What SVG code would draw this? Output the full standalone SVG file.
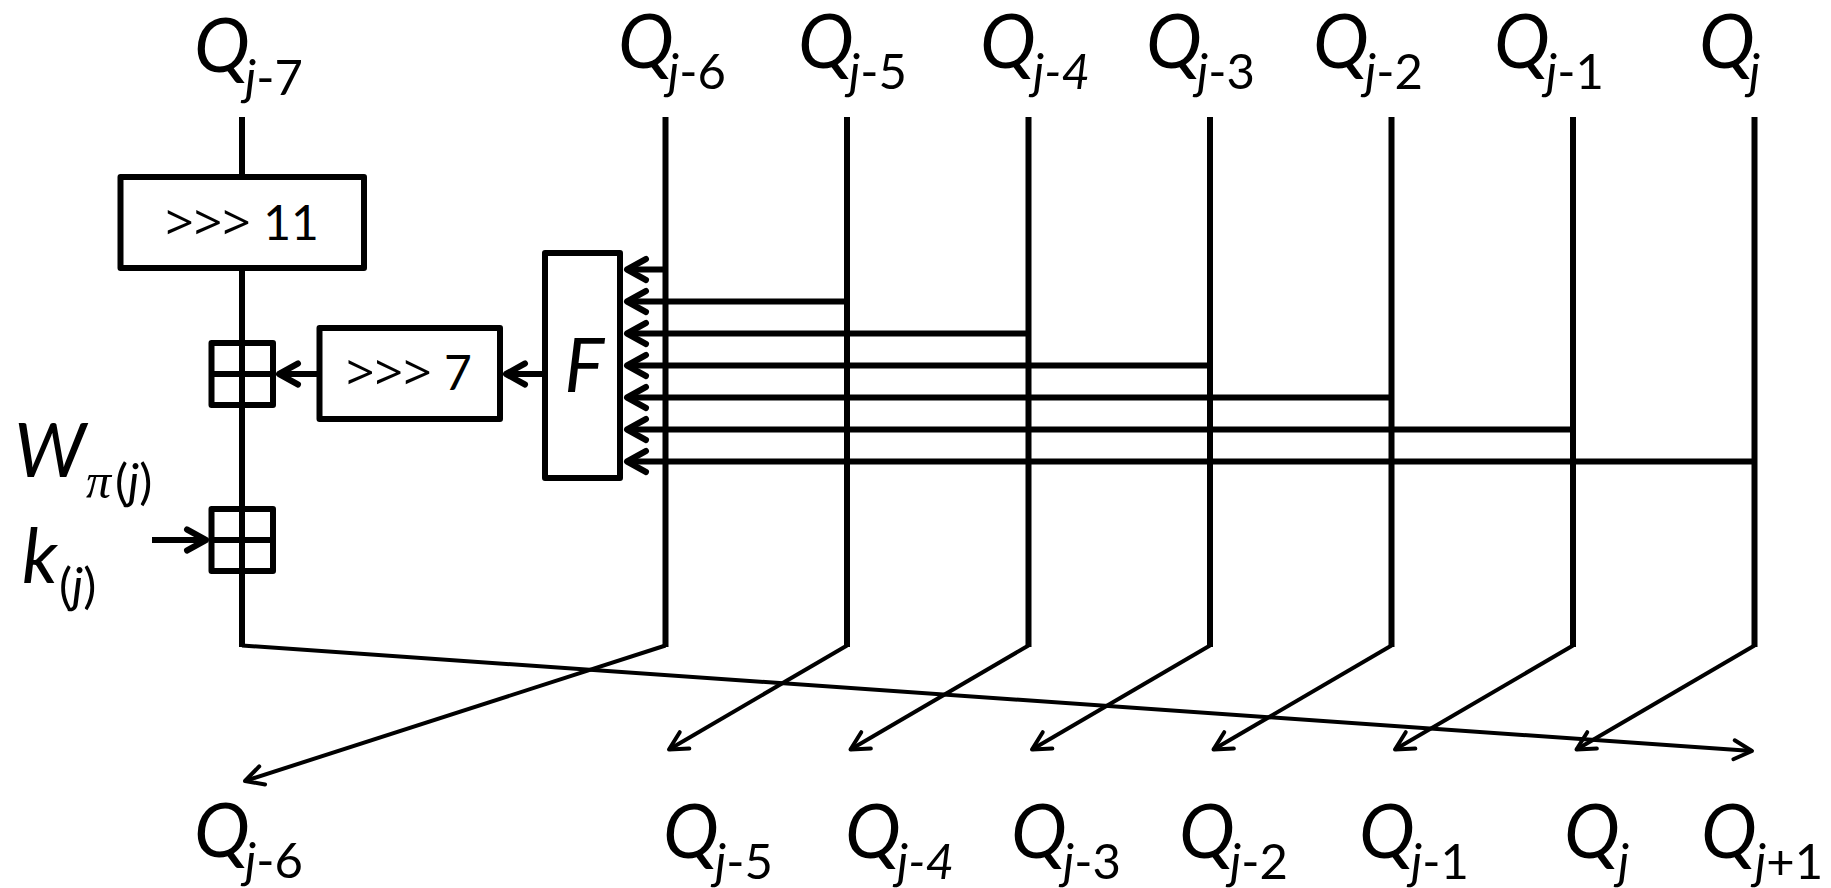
<svg xmlns="http://www.w3.org/2000/svg" width="1831" height="888" viewBox="0 0 1831 888">
<style>
.ln{stroke:#000;stroke-width:6;fill:none}
.th{stroke:#000;stroke-width:4;fill:none}
.box{fill:#fff;stroke:#000;stroke-width:6;stroke-linejoin:round}
.q{font-family:Lato,"Open Sans",sans-serif;font-style:italic;font-size:75px;fill:#000}
.s{font-size:49px;font-style:normal}
.i{font-style:italic}
.bt{font-family:Lato,"Open Sans",sans-serif;font-size:48px;fill:#000;text-anchor:middle}
.gt{font-family:"Open Sans",Lato,sans-serif;font-size:50px}
.pi{font-family:"Liberation Serif",serif;font-style:italic;font-size:50px}
</style>
<defs>
<marker id="ah" markerUnits="userSpaceOnUse" markerWidth="60" markerHeight="60" viewBox="-40 -30 60 60" refX="0" refY="0" orient="auto" overflow="visible">
<path d="M-19,-10.5 L0,0 L-19,10.5" fill="none" stroke="#000" stroke-width="6" stroke-linejoin="round" stroke-linecap="round"/>
</marker>
<marker id="ah2" markerUnits="userSpaceOnUse" markerWidth="60" markerHeight="60" viewBox="-40 -30 60 60" refX="0" refY="0" orient="auto" overflow="visible">
<path d="M-18,-9.5 L0,0 L-18,9.5" fill="none" stroke="#000" stroke-width="4" stroke-linejoin="round" stroke-linecap="round"/>
</marker>
</defs>

<g id="connectors">
<line class="ln" x1="242" y1="117" x2="242" y2="177"/>
<line class="ln" x1="242" y1="268" x2="242" y2="647"/>
<line class="th" x1="242" y1="645.5" x2="1752" y2="751" marker-end="url(#ah2)"/>
<line class="ln" x1="665.5" y1="117" x2="665.5" y2="647"/>
<line class="ln" x1="847" y1="117" x2="847" y2="647"/>
<line class="ln" x1="1028.5" y1="117" x2="1028.5" y2="647"/>
<line class="ln" x1="1210" y1="117" x2="1210" y2="647"/>
<line class="ln" x1="1391.5" y1="117" x2="1391.5" y2="647"/>
<line class="ln" x1="1573" y1="117" x2="1573" y2="647"/>
<line class="ln" x1="1754.5" y1="117" x2="1754.5" y2="647"/>
<line class="th" x1="665.5" y1="645.5" x2="245" y2="781" marker-end="url(#ah2)"/>
<line class="th" x1="847" y1="645.5" x2="669" y2="749.5" marker-end="url(#ah2)"/>
<line class="th" x1="1028.5" y1="645.5" x2="850.5" y2="749.5" marker-end="url(#ah2)"/>
<line class="th" x1="1210" y1="645.5" x2="1032" y2="749.5" marker-end="url(#ah2)"/>
<line class="th" x1="1391.5" y1="645.5" x2="1213.5" y2="749.5" marker-end="url(#ah2)"/>
<line class="th" x1="1573" y1="645.5" x2="1395" y2="749.5" marker-end="url(#ah2)"/>
<line class="th" x1="1754.5" y1="645.5" x2="1576.5" y2="749.5" marker-end="url(#ah2)"/>
<line class="ln" x1="665.5" y1="269.5" x2="627" y2="269.5" marker-end="url(#ah)"/>
<line class="ln" x1="847" y1="301.5" x2="627" y2="301.5" marker-end="url(#ah)"/>
<line class="ln" x1="1028.5" y1="333.5" x2="627" y2="333.5" marker-end="url(#ah)"/>
<line class="ln" x1="1210" y1="365.5" x2="627" y2="365.5" marker-end="url(#ah)"/>
<line class="ln" x1="1391.5" y1="397.5" x2="627" y2="397.5" marker-end="url(#ah)"/>
<line class="ln" x1="1573" y1="429.5" x2="627" y2="429.5" marker-end="url(#ah)"/>
<line class="ln" x1="1754.5" y1="461.5" x2="627" y2="461.5" marker-end="url(#ah)"/>
<line class="ln" x1="545" y1="374" x2="506" y2="374" marker-end="url(#ah)"/>
<line class="ln" x1="319.5" y1="374" x2="279" y2="374" marker-end="url(#ah)"/>
<line class="ln" x1="152" y1="540" x2="206" y2="540" marker-end="url(#ah)"/>
</g>

<g id="rot11">
<rect class="box" x="120.5" y="177" width="243.5" height="91"/>
<text class="bt" x="242" y="240"><tspan class="gt">&gt;&gt;&gt;</tspan> 11</text>
</g>
<g id="rot7">
<rect class="box" x="319.5" y="328" width="180.5" height="91"/>
<text class="bt" x="409" y="390"><tspan class="gt">&gt;&gt;&gt;</tspan> 7</text>
</g>
<g id="F">
<rect class="box" x="545" y="253" width="75" height="225"/>
<text class="q" x="584" y="391.5" font-size="65" text-anchor="middle">F</text>
</g>
<g id="add1">
<rect class="box" x="211.5" y="343" width="61.5" height="62"/>
<line class="ln" x1="211.5" y1="374" x2="273" y2="374"/>
<line class="ln" x1="242" y1="343" x2="242" y2="405"/>
</g>
<g id="add2">
<rect class="box" x="211.5" y="509" width="61.5" height="62"/>
<line class="ln" x1="211.5" y1="540" x2="273" y2="540"/>
<line class="ln" x1="242" y1="509" x2="242" y2="571"/>
</g>

<g id="lbl-W"><text class="q" x="14" y="477">W<tspan class="pi" x="86" y="498">π</tspan><tspan class="s" x="115" y="499">(<tspan class="i">j</tspan>)</tspan></text></g>
<g id="lbl-k"><text class="q" x="22" y="583">k<tspan class="s" x="59" y="603">(<tspan class="i">j</tspan>)</tspan></text></g>

<g id="top-j7"><text class="q" x="194" y="72">Q<tspan class="s" x="245" y="95"><tspan class="i">j</tspan>-7</tspan></text></g>
<g id="top-j6"><text class="q" x="618" y="68">Q<tspan class="s" x="668" y="89"><tspan class="i">j</tspan>-6</tspan></text></g>
<g id="top-j5"><text class="q" x="798" y="68">Q<tspan class="s" x="849" y="89"><tspan class="i">j</tspan>-5</tspan></text></g>
<g id="top-j4"><text class="q" x="980" y="68">Q<tspan class="s i" x="1033" y="89">j-4</tspan></text></g>
<g id="top-j3"><text class="q" x="1146" y="68">Q<tspan class="s" x="1197" y="89"><tspan class="i">j</tspan>-3</tspan></text></g>
<g id="top-j2"><text class="q" x="1313" y="68">Q<tspan class="s" x="1365" y="89"><tspan class="i">j</tspan>-2</tspan></text></g>
<g id="top-j1"><text class="q" x="1494" y="68">Q<tspan class="s" x="1546" y="89"><tspan class="i">j</tspan>-1</tspan></text></g>
<g id="top-j0"><text class="q" x="1699" y="68">Q<tspan class="s i" x="1749" y="89">j</tspan></text></g>

<g id="bot-j6"><text class="q" x="194" y="857">Q<tspan class="s" x="245" y="878"><tspan class="i">j</tspan>-6</tspan></text></g>
<g id="bot-j5"><text class="q" x="663" y="858">Q<tspan class="s" x="715" y="879"><tspan class="i">j</tspan>-5</tspan></text></g>
<g id="bot-j4"><text class="q" x="845" y="858">Q<tspan class="s i" x="897" y="879">j-4</tspan></text></g>
<g id="bot-j3"><text class="q" x="1011" y="858">Q<tspan class="s" x="1063" y="879"><tspan class="i">j</tspan>-3</tspan></text></g>
<g id="bot-j2"><text class="q" x="1179" y="858">Q<tspan class="s" x="1230" y="879"><tspan class="i">j</tspan>-2</tspan></text></g>
<g id="bot-j1"><text class="q" x="1359" y="858">Q<tspan class="s" x="1411" y="879"><tspan class="i">j</tspan>-1</tspan></text></g>
<g id="bot-j0"><text class="q" x="1564" y="858">Q<tspan class="s i" x="1618" y="879">j</tspan></text></g>
<g id="bot-jp1"><text class="q" x="1701" y="858">Q<tspan class="s" x="1755" y="879"><tspan class="i">j</tspan>+1</tspan></text></g>
</svg>
